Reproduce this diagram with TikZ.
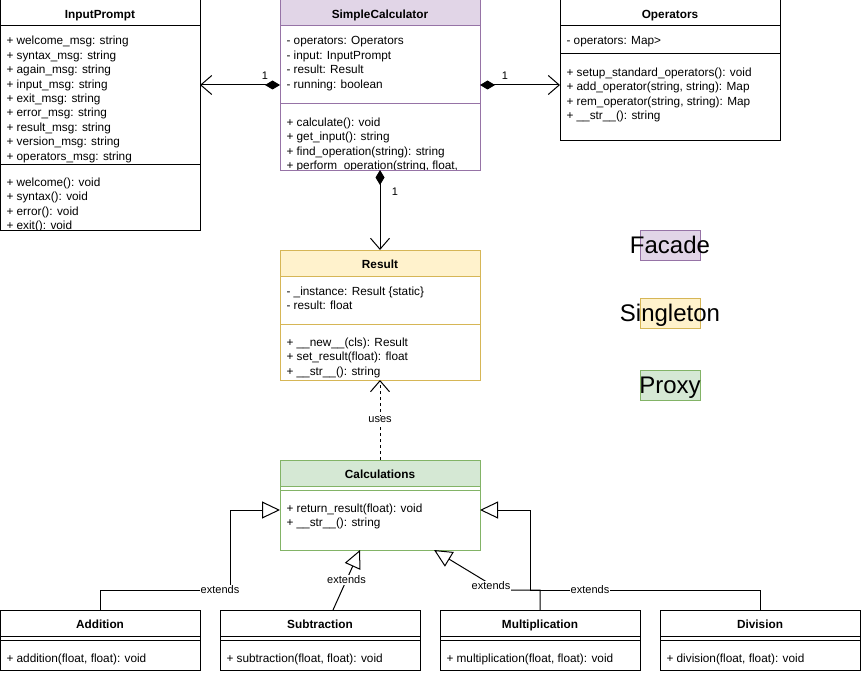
\documentclass[tikz,border=0pt]{standalone}
\usepackage{fontspec}
\setmainfont{Liberation Sans}
\usetikzlibrary{arrows.meta}
\definecolor{pfill}{HTML}{E1D5E7}
\definecolor{pline}{HTML}{9673A6}
\definecolor{yfill}{HTML}{FFF2CC}
\definecolor{yline}{HTML}{D6B656}
\definecolor{gfill}{HTML}{D5E8D4}
\definecolor{gline}{HTML}{82B366}
\newcommand\memberlist[4]{% prefix, x, first baseline, list
  \foreach \t [count=\i from 0] in {#4} {\node[txt] (#1\i) at (#2,#3+14.4*\i) {\t};}}
\begin{document}
\begin{tikzpicture}[x=1pt,y=-1pt, line width=1pt,
 box/.style={draw, fill=white, anchor=north west, inner sep=0pt, outer sep=0pt},
 txt/.style={anchor=base west, inner sep=0pt, font=\fontsize{11.8}{14}\selectfont},
 ttl/.style={anchor=base, inner sep=0pt, font=\fontsize{11.8}{14}\selectfont\bfseries},
 lbl/.style={font=\fontsize{11}{13}\selectfont, fill=white, inner sep=1pt},
 mult/.style={font=\fontsize{11}{13}\selectfont, inner sep=0pt},
 leg/.style={anchor=base, inner sep=0pt, font=\fontsize{24}{28}\selectfont},
 legbox/.style={anchor=north west, inner sep=0pt, outer sep=0pt, minimum width=60pt, minimum height=30pt},
 comp/.style={{Diamond[length=15pt,width=9pt]}-{Straight Barb[length=11pt,width=19pt]}},
 inh/.style={-{Triangle[open,length=18pt,width=17pt]}},
 dep/.style={dash pattern=on 3pt off 3pt, -{Straight Barb[length=11pt,width=19pt]}}
]
\useasboundingbox (0,0) rectangle (861,674);

% InputPrompt
\node[box, minimum width=200pt, minimum height=230pt] (ip) at (0,0) {};
\draw (ip.north west) ++(0,26) -- ++(200,0);
\draw (ip.north west) ++(0,164) -- ++(200,0);
\node[ttl] (ipt) at (100,18.5) {InputPrompt};
\begin{scope}
\clip (0,0) rectangle (200,230);
\memberlist{ipa}{6}{45}{+ welcome\_msg: string, + syntax\_msg: string, + again\_msg: string, + input\_msg: string, + exit\_msg: string, + error\_msg: string, + result\_msg: string, + version\_msg: string, + operators\_msg: string}
\memberlist{ipm}{6}{186.5}{+ welcome(): void, + syntax(): void, + error(): void, + exit(): void}
\end{scope}
\draw (ip.north west) rectangle (ip.south east);

% SimpleCalculator
\node[box, draw=pline, minimum width=200pt, minimum height=170pt] (sc) at (280,0) {};
\filldraw[fill=pfill, draw=pline] (sc.north west) rectangle ++(200,26);
\draw[pline] (sc.north west) ++(0,104) -- ++(200,0);
\node[ttl] (sct) at (380,18.5) {SimpleCalculator};
\begin{scope}
\clip (280,0) rectangle (480,170);
\memberlist{sca}{286}{45}{- operators: Operators, - input: InputPrompt, - result: Result, - running: boolean}
\memberlist{scm}{286}{126.5}{+ calculate(): void, + get\_input(): string, + find\_operation(string): string, {+ perform\_operation(string, float,}}
\end{scope}
\draw[pline] (sc.north west) rectangle (sc.south east);

% Operators
\node[box, minimum width=220pt, minimum height=140pt] (op) at (560,0) {};
\draw (op.north west) ++(0,26) -- ++(220,0);
\draw (op.north west) ++(0,54) -- ++(220,0);
\node[ttl] (opt) at (670,18.5) {Operators};
\memberlist{opa}{566}{45}{- operators: Map>}
\memberlist{opm}{566}{76.5}{+ setup\_standard\_operators(): void, {+ add\_operator(string, string): Map}, {+ rem\_operator(string, string): Map}, + \_\_str\_\_(): string}

% Result
\node[box, draw=yline, minimum width=200pt, minimum height=130pt] (res) at (280,250) {};
\filldraw[fill=yfill, draw=yline] (res.north west) rectangle ++(200,26);
\draw[yline] (res.north west) ++(0,74) -- ++(200,0);
\node[ttl] (rest) at (380,268.5) {Result};
\memberlist{resa}{286}{295}{- \_instance: Result \{static\}, - result: float}
\memberlist{resm}{286}{346.5}{+ \_\_new\_\_(cls): Result, + set\_result(float): float, + \_\_str\_\_(): string}

% Calculations
\node[box, draw=gline, minimum width=200pt, minimum height=90pt] (calc) at (280,460) {};
\filldraw[fill=gfill, draw=gline] (calc.north west) rectangle ++(200,26);
\draw[gline] (calc.north west) ++(0,30) -- ++(200,0);
\node[ttl] (calct) at (380,478.5) {Calculations};
\memberlist{calcm}{286}{512.5}{+ return\_result(float): void, + \_\_str\_\_(): string}

% Operation classes
\node[box, minimum width=200pt, minimum height=60pt] (add) at (0,610) {};
\node[box, minimum width=200pt, minimum height=60pt] (sub) at (220,610) {};
\node[box, minimum width=200pt, minimum height=60pt] (mul) at (440,610) {};
\node[box, minimum width=200pt, minimum height=60pt] (div) at (660,610) {};
\foreach \n in {add,sub,mul,div} {
  \draw (\n.north west) ++(0,26) -- ++(200,0);
  \draw (\n.north west) ++(0,30) -- ++(200,0);
}
\node[ttl] (addt) at (100,628.5) {Addition};
\node[ttl] (subt) at (320,628.5) {Subtraction};
\node[ttl] (mult) at (540,628.5) {Multiplication};
\node[ttl] (divt) at (760,628.5) {Division};
\node[txt] (addm) at (6,662) {+ addition(float, float): void};
\node[txt] (subm) at (226,662) {+ subtraction(float, float): void};
\node[txt] (mulm) at (446,662) {+ multiplication(float, float): void};
\node[txt] (divm) at (666,662) {+ division(float, float): void};

% Legend
\node[legbox, draw=pline, fill=pfill] (lf) at (640,230) {};
\node[leg] (lft) at (670,253.7) {Facade};
\node[legbox, draw=yline, fill=yfill] (ls) at (640,298) {};
\node[leg] (lst) at (670,321.7) {Singleton};
\node[legbox, draw=gline, fill=gfill] (lp) at (640,370) {};
\node[leg] (lpt) at (670,393.7) {Proxy};

% Connectors
\draw[comp] (sc.west) -- (ip.east |- sc.west);
\draw[comp] (sc.east) -- (op.west |- sc.east);
\draw[comp] (sc.south) -- (res.north);
\node[mult] (m1) at (265,76) {1};
\node[mult] (m2) at (505,76) {1};
\node[mult] (m3) at (395,191.5) {1};

\draw[dep] (calc.north) -- (res.south) node[midway, lbl] (uses) {uses};

\draw[inh] (add.north) |- (230,590) -- (230,510) -- (calc.west |- 0,510);
\node[lbl] (e1) at (220,590) {extends};
\draw[inh] (sub.north -| 333,0) -- (calc.south -| 360,0) node[midway, lbl] (e2) {extends};
\draw[inh] (mul.north) |- (500,590) -- (calc.south -| 434,0);
\node[lbl] (e3) at (491,586) {extends};
\draw[inh] (div.north) |- (530,590) -- (530,510) -- (calc.east |- 0,510);
\node[lbl] (e4) at (590,590) {extends};
\end{tikzpicture}
\end{document}
